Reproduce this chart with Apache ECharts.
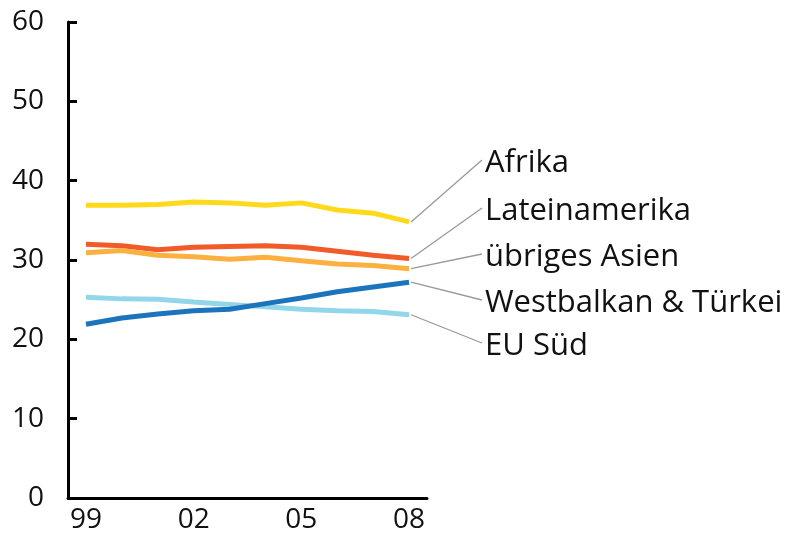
<!DOCTYPE html>
<html>
<head>
<meta charset="utf-8">
<script src="https://cdn.jsdelivr.net/npm/echarts@6/dist/echarts.min.js"></script>
<style>
html, body { margin: 0; padding: 0; background: #fff; }
#chart { width: 788px; height: 538px; }
</style>
</head>
<body>
<div id="chart"></div>
<script>
var years = ['99', '00', '01', '02', '03', '04', '05', '06', '07', '08'];
var afrika = [36.9, 36.9, 37.0, 37.3, 37.2, 36.9, 37.2, 36.3, 35.9, 34.8];
var lateinamerika = [32.0, 31.8, 31.3, 31.6, 31.7, 31.8, 31.6, 31.1, 30.6, 30.2];
var asien = [30.9, 31.2, 30.6, 30.4, 30.1, 30.35, 29.9, 29.5, 29.3, 28.9];
var westbalkan = [21.9, 22.7, 23.2, 23.6, 23.8, 24.5, 25.2, 26.0, 26.6, 27.2];
var euSued = [25.3, 25.1, 25.05, 24.7, 24.4, 24.1, 23.8, 23.6, 23.5, 23.1];
var names = ['Afrika', 'Lateinamerika', 'übriges Asien', 'Westbalkan & Türkei', 'EU Süd'];

var seriesData = [afrika, lateinamerika, asien, westbalkan, euSued];
var colors = ['#FFD91A', '#F15A29', '#FBB040', '#1C75BC', '#92D6E9'];
// label text rows on the right (pixel y of text middle)
var labelY = [163, 211, 257, 303, 346];
var font = '"Open Sans", sans-serif';

var chart = echarts.init(document.getElementById('chart'));

var series = [];
for (var i = 0; i < seriesData.length; i++) {
  series.push({
    name: names[i],
    type: 'line',
    data: seriesData[i],
    symbol: 'none',
    z: i == 3 ? 5 : 2,
    lineStyle: { color: colors[i], width: 5 }
  });
}

chart.setOption({
  animation: false,
  grid: { left: 68, right: 361, top: 22, bottom: 40 },
  xAxis: {
    type: 'category',
    data: years,
    boundaryGap: true,
    axisLine: { lineStyle: { color: '#000', width: 3 } },
    axisTick: { inside: true, length: 11, interval: 0, lineStyle: { color: '#000', width: 3 } },
    axisLabel: { interval: 2, margin: 8, color: '#111', fontSize: 28, fontFamily: font }
  },
  yAxis: {
    type: 'value',
    min: 0,
    max: 60,
    interval: 10,
    splitLine: { show: false },
    axisLine: { show: true, lineStyle: { color: '#000', width: 3 } },
    axisTick: { show: true, inside: true, length: 9, lineStyle: { color: '#000', width: 3 } },
    axisLabel: { margin: 24, color: '#111', fontSize: 28, fontFamily: font }
  },
  series: series
});

// end labels with thin leader lines
var els = [];
for (var j = 0; j < seriesData.length; j++) {
  var d = seriesData[j];
  var p = chart.convertToPixel({ seriesIndex: j }, [d.length - 1, d[d.length - 1]]);
  els.push({
    type: 'line',
    silent: true,
    shape: { x1: p[0] + 2, y1: p[1], x2: 482, y2: labelY[j] - 3 },
    style: { stroke: '#999', lineWidth: 1.3 }
  });
  els.push({
    type: 'text',
    x: 485,
    y: labelY[j],
    style: { text: names[j], fill: '#111', fontSize: 31, fontFamily: font, verticalAlign: 'middle' }
  });
}
chart.setOption({ graphic: els });
</script>
</body>
</html>
